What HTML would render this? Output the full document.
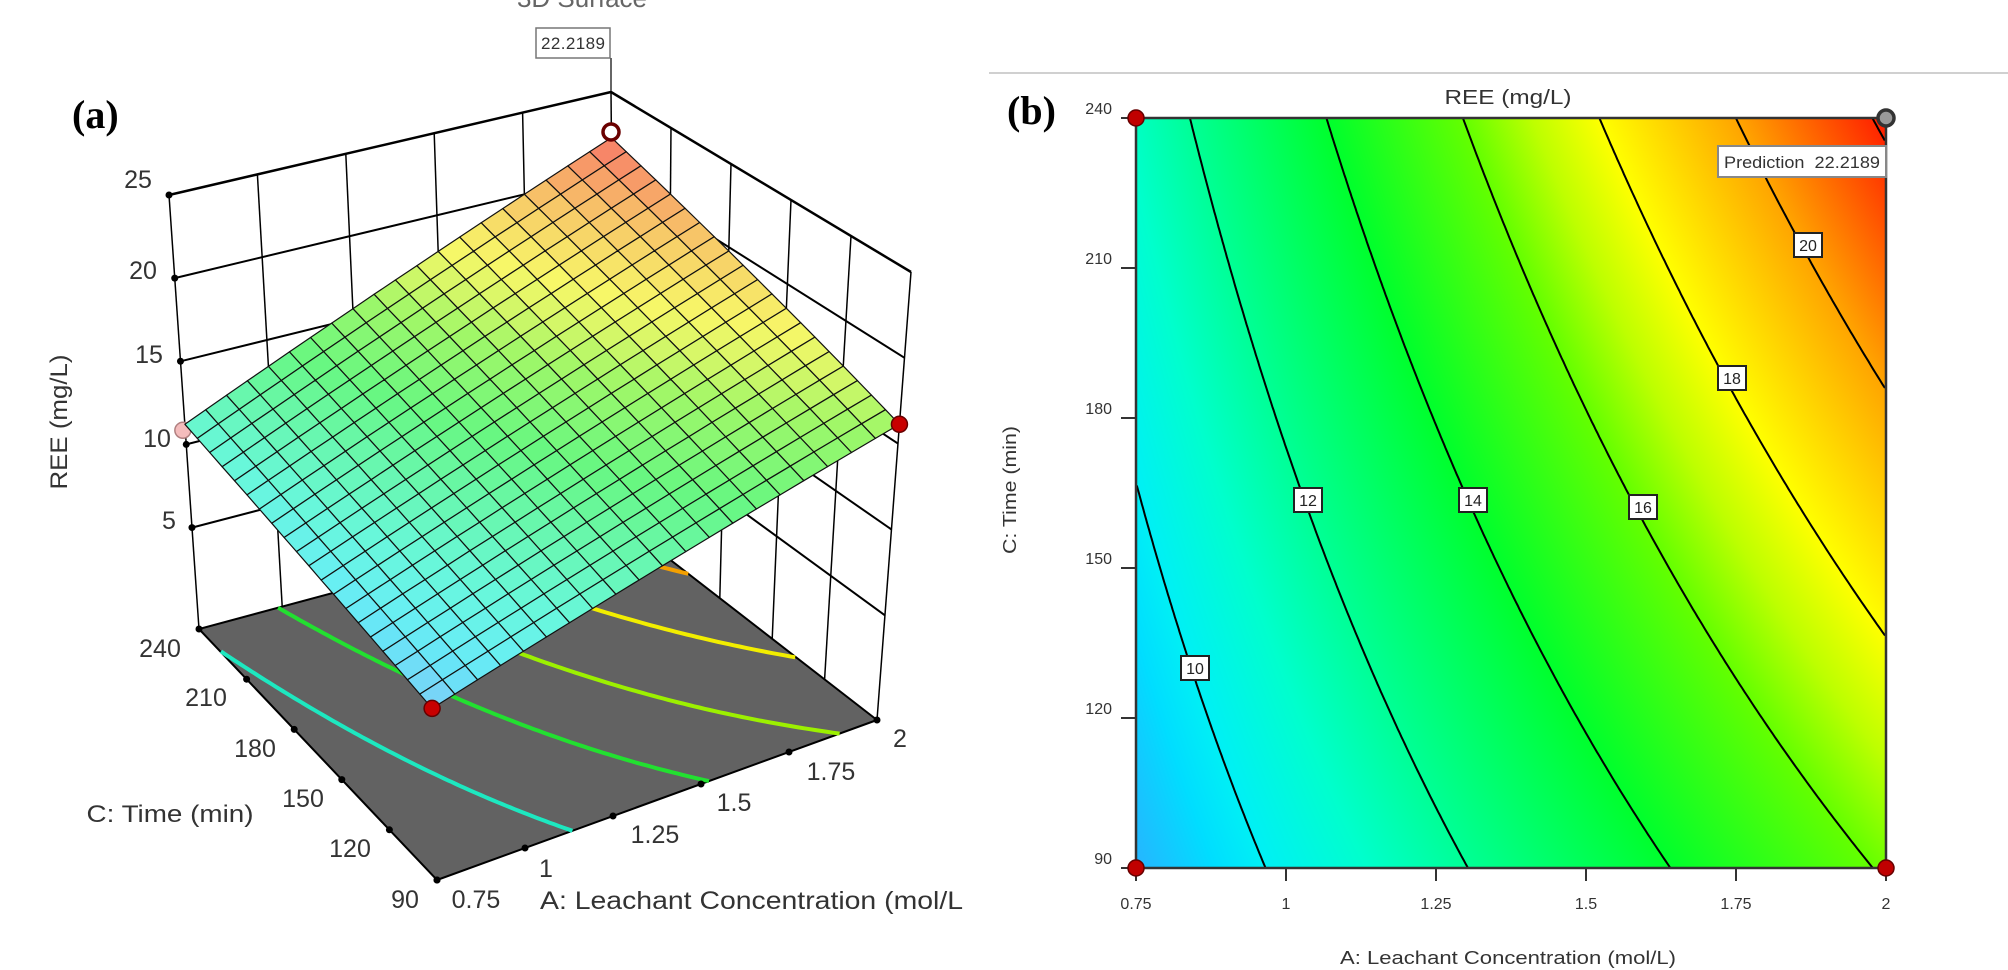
<!DOCTYPE html>
<html><head><meta charset="utf-8">
<style>
html,body{margin:0;padding:0;background:#fff;}
#wrap{position:relative;width:2008px;height:970px;overflow:hidden;background:#fff;}
#cv{position:absolute;left:1136px;top:118px;width:750px;height:750px;}
#sv{position:absolute;left:0;top:0;}
</style></head>
<body><div id="wrap">
<canvas id="cv" width="750" height="750"></canvas>
<svg id="sv" width="2008" height="970" xmlns="http://www.w3.org/2000/svg" font-family="Liberation Sans, sans-serif"></svg>
</div>
<script>
(function(){
function V(u,w){return 8.72+2.49*w+(7.41+3.58*w)*u;}
var stops=[[8.7,[40,180,255]],[9.5,[0,222,255]],[10,[0,240,245]],[11,[0,255,205]],[12,[0,255,150]],[14,[0,255,45]],[16,[100,255,0]],[17,[190,255,0]],[18,[255,255,0]],[20,[255,165,0]],[22.3,[255,20,0]]];
function cm(v){
  if(v<=stops[0][0])return stops[0][1].slice();
  for(var i=1;i<stops.length;i++){if(v<=stops[i][0]){var a=stops[i-1],b=stops[i],t=(v-a[0])/(b[0]-a[0]);return [0,1,2].map(function(k){return a[1][k]+(b[1][k]-a[1][k])*t;});}}
  return stops[stops.length-1][1].slice();
}
var cv=document.getElementById('cv'),ctx=cv.getContext('2d'),img=ctx.createImageData(750,750);
for(var y=0;y<750;y++){var w=(750-y)/750;for(var x=0;x<750;x++){var c=cm(V(x/750,w));var p=(y*750+x)*4;img.data[p]=c[0];img.data[p+1]=c[1];img.data[p+2]=c[2];img.data[p+3]=255;}}
ctx.putImageData(img,0,0);

var s='';
function line(x1,y1,x2,y2,col,wd){s+='<line x1="'+x1.toFixed(1)+'" y1="'+y1.toFixed(1)+'" x2="'+x2.toFixed(1)+'" y2="'+y2.toFixed(1)+'" stroke="'+(col||'#000')+'" stroke-width="'+(wd||1.5)+'"/>';}
function text(x,y,t,sz,anchor,extra){s+='<text x="'+x+'" y="'+y+'" font-size="'+sz+'" text-anchor="'+(anchor||'middle')+'" fill="'+((extra&&extra.fill)||'#333')+'"'+((extra&&extra.attr)||'')+'>'+t+'</text>';}
function rgb(c){return 'rgb('+Math.round(c[0])+','+Math.round(c[1])+','+Math.round(c[2])+')';}

var F=[437,880],R=[877,720],L=[199,629],B=[615,517];
var Ft=[424,424],Rt=[911,272],Lt=[169,195],Bt=[611,92];
function bil(p00,p10,p01,p11,a,c){return [p00[0]*(1-a)*(1-c)+p10[0]*a*(1-c)+p01[0]*(1-a)*c+p11[0]*a*c,p00[1]*(1-a)*(1-c)+p10[1]*a*(1-c)+p01[1]*(1-a)*c+p11[1]*a*c];}
function P(a,c,z){var t=(25-z)/26.1;var f=bil(F,R,L,B,a,c),tp=bil(Ft,Rt,Lt,Bt,a,c);return [tp[0]*(1-t)+f[0]*t,tp[1]*(1-t)+f[1]*t];}
text(582,7,'3D Surface',26,'middle',{fill:'#666'});
var k,z;
for(k=1;k<5;k++){var p1=P(k/5,1,-1.1),p2=P(k/5,1,25);line(p1[0],p1[1],p2[0],p2[1],'#000',1.5);}
for(z=5;z<=25;z+=5){var p1=P(0,1,z),p2=P(1,1,z);line(p1[0],p1[1],p2[0],p2[1],'#000',z==25?2.5:2);}
for(k=1;k<5;k++){var p1=P(1,k/5,-1.1),p2=P(1,k/5,25);line(p1[0],p1[1],p2[0],p2[1],'#000',1.5);}
for(z=5;z<=25;z+=5){var p1=P(1,0,z),p2=P(1,1,z);line(p1[0],p1[1],p2[0],p2[1],'#000',z==25?2.5:2);}
var a1=P(0,1,-1.1),a2=P(0,1,25);line(a1[0],a1[1],a2[0],a2[1],'#000',1.5);
a1=P(1,1,-1.1);a2=P(1,1,25);line(a1[0],a1[1],a2[0],a2[1],'#000',1.5);line(a2[0],a2[1],a2[0],58,'#000',1.2);
a1=P(1,0,-1.1);a2=P(1,0,25);line(a1[0],a1[1],a2[0],a2[1],'#000',1.5);
s+='<polygon points="'+[F,R,B,L].map(function(p){return p.join(',');}).join(' ')+'" fill="#626262" stroke="#000" stroke-width="2"/>';
var fl=[[11,'#1de8c0'],[13.3,'#22e030'],[15.5,'#9cf000'],[18,'#f2ee00'],[20.5,'#f4a000']];
fl.forEach(function(l){var pts=[];for(var i=0;i<=100;i++){var w=i/100;var u=(l[0]-8.72-2.49*w)/(7.41+3.58*w);if(u>=0&&u<=1){var p=P(u,w,-1.1);pts.push(p[0].toFixed(1)+','+p[1].toFixed(1));}}
 if(pts.length>1)s+='<polyline points="'+pts.join(' ')+'" fill="none" stroke="'+l[1]+'" stroke-width="4"/>';});
for(k=0;k<=5;k++){var p=P(k/5,0,-1.1);s+='<circle cx="'+p[0]+'" cy="'+p[1]+'" r="3.5" fill="#000"/>';p=P(0,k/5,-1.1);s+='<circle cx="'+p[0]+'" cy="'+p[1]+'" r="3.5" fill="#000"/>';}
for(z=5;z<=25;z+=5){var p=P(0,1,z);s+='<circle cx="'+p[0]+'" cy="'+p[1]+'" r="3.5" fill="#000"/>';}
var pk=P(0,1,V(0,1));s+='<circle cx="'+(pk[0]-2)+'" cy="'+(pk[1]+6)+'" r="8" fill="#f4bcbc" stroke="#b08080" stroke-width="1.5"/>';
var N=20,cells=[];
for(var i=0;i<N;i++)for(var j=0;j<N;j++)cells.push([i,j]);
cells.sort(function(A,Bc){return (Bc[0]+Bc[1])-(A[0]+A[1]);});
cells.forEach(function(cl){var i=cl[0],j=cl[1];var q=[[i,j],[i+1,j],[i+1,j+1],[i,j+1]].map(function(g){var u=g[0]/N,w=g[1]/N;return P(u,w,V(u,w));});
 var v=V((i+.5)/N,(j+.5)/N);var c=cm(v);c=c.map(function(x){return (x*0.58+255*0.42)*0.97;});
 s+='<polygon points="'+q.map(function(p){return p[0].toFixed(1)+','+p[1].toFixed(1);}).join(' ')+'" fill="'+rgb(c)+'" stroke="#111" stroke-width="1.2" stroke-linejoin="round"/>';});
var d=P(0,0,V(0,0));s+='<circle cx="'+d[0]+'" cy="'+d[1]+'" r="8" fill="#c80000" stroke="#600" stroke-width="1.5"/>';
d=P(1,0,V(1,0));s+='<circle cx="'+d[0]+'" cy="'+d[1]+'" r="8" fill="#c80000" stroke="#600" stroke-width="1.5"/>';
s+='<circle cx="611" cy="132" r="8" fill="#fff" stroke="#6a0000" stroke-width="3.5"/>';
s+='<rect x="536" y="28" width="74" height="30" fill="#fff" stroke="#777" stroke-width="1.5"/>';
text(573,49,'22.2189',17,'middle',{attr:' textLength="64"'});
[[25,138,188],[20,143,279],[15,149,363],[10,157,447],[5,169,529]].forEach(function(t){text(t[1],t[2],t[0],25);});
[['240',160,657],['210',206,706],['180',255,757],['150',303,807],['120',350,857],['90',405,908]].forEach(function(t){text(t[1],t[2],t[0],25);});
[['0.75',476,908],['1',546,877],['1.25',655,843],['1.5',734,811],['1.75',831,780],['2',900,747]].forEach(function(t){text(t[1],t[2],t[0],25);});
text(540,909,'A: Leachant Concentration (mol/L',25,'start',{attr:' textLength="423" lengthAdjust="spacingAndGlyphs"'});
text(170,822,'C: Time (min)',24,'middle',{attr:' textLength="167" lengthAdjust="spacingAndGlyphs"'});
s+='<text x="0" y="0" font-size="24" fill="#333" text-anchor="middle" transform="translate(67,422) rotate(-90)" textLength="135" lengthAdjust="spacingAndGlyphs">REE (mg/L)</text>';
s+='<text x="72" y="128" font-family="Liberation Serif, serif" font-weight="bold" font-size="40" fill="#000">(a)</text>';

line(989,73,2008,73,'#d0d0d0',2);
s+='<text x="1007" y="124" font-family="Liberation Serif, serif" font-weight="bold" font-size="40" fill="#000">(b)</text>';
text(1508,104,'REE (mg/L)',20,'middle',{attr:' textLength="127" lengthAdjust="spacingAndGlyphs"'});
for(var lv=10;lv<=22;lv+=2){var pts=[];for(var i=0;i<=200;i++){var w=i/200;var u=(lv-8.72-2.49*w)/(7.41+3.58*w);if(u>=0&&u<=1)pts.push((1136+750*u).toFixed(1)+','+(868-750*w).toFixed(1));}
 if(pts.length>1)s+='<polyline points="'+pts.join(' ')+'" fill="none" stroke="#000" stroke-width="2"/>';}
s+='<rect x="1136" y="118" width="750" height="750" fill="none" stroke="#333" stroke-width="2.5"/>';
var yl=['240','210','180','150','120','90'];
for(k=0;k<6;k++){var yy=118+150*k;line(1121,yy,1136,yy,'#333',2);text(1112,yy-4,yl[k],16,'end');}
var xl=['0.75','1','1.25','1.5','1.75','2'];
for(k=0;k<6;k++){var xx=1136+150*k;line(xx,868,xx,881,'#333',2);text(xx,909,xl[k],16,'middle');}
text(1508,964,'A: Leachant Concentration (mol/L)',18,'middle',{attr:' textLength="336" lengthAdjust="spacingAndGlyphs"'});
s+='<text x="0" y="0" font-size="18" fill="#333" text-anchor="middle" transform="translate(1016,490) rotate(-90)" textLength="128" lengthAdjust="spacingAndGlyphs">C: Time (min)</text>';
[['10',1195,668],['12',1308,500],['14',1473,500],['16',1643,507],['18',1732,378],['20',1808,245]].forEach(function(t){
 s+='<rect x="'+(t[1]-14)+'" y="'+(t[2]-12)+'" width="28" height="24" fill="#fff" stroke="#222" stroke-width="2"/>';
 text(t[1],t[2]+6,t[0],16,'middle',{fill:'#222'});});
[[1136,118],[1136,868],[1886,868]].forEach(function(p){s+='<circle cx="'+p[0]+'" cy="'+p[1]+'" r="8" fill="#c00000" stroke="#600" stroke-width="1.5"/>';});
s+='<circle cx="1886" cy="118" r="8" fill="#999" stroke="#333" stroke-width="3.5"/>';
s+='<rect x="1718" y="146" width="168" height="31" fill="#fff" stroke="#888" stroke-width="2"/>';
text(1802,168,'Prediction&#160;&#160;22.2189',17,'middle',{attr:' textLength="156" lengthAdjust="spacingAndGlyphs"'});
document.getElementById('sv').innerHTML=s;
})();
</script>
</body></html>
